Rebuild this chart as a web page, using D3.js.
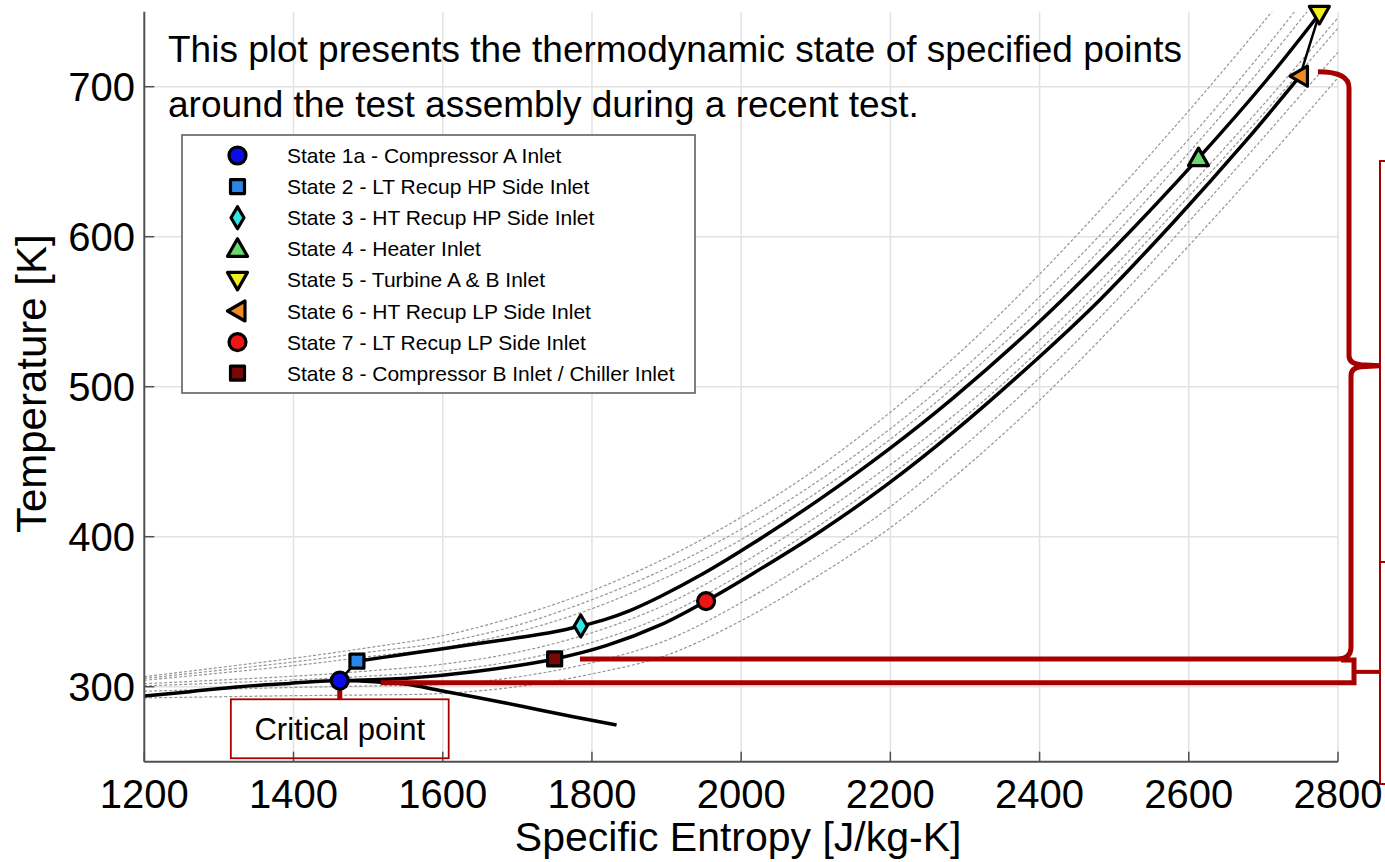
<!DOCTYPE html>
<html>
<head>
<script src="https://d3js.org/d3.v7.min.js"></script>
<style>
  body { margin: 0; background: #fff; }
  svg { display: block; font-family: "Liberation Sans", Arial, sans-serif; }
  .grid line { stroke: #e2e2e2; stroke-width: 1.5px; }
  .iso { fill: none; stroke: #969696; stroke-width: 1.2px; stroke-dasharray: 3,2; }
  .proc { fill: none; stroke: #000; stroke-width: 3.5px; stroke-linejoin: round; }
  .note { fill: none; stroke: #a80000; }
</style>
</head>
<body>
<div id="container"></div>
<script>
// axis ticks
const xTicks = [1200, 1400, 1600, 1800, 2000, 2200, 2400, 2600, 2800];
const yTicks = [300, 400, 500, 600, 700];

// saturation dome: liquid side up to the critical point, then vapour side
const domeS = [1200, 1261, 1328, 1395, 1462, 1516, 1552, 1596, 1641, 1686, 1730, 1775, 1833];
const domeT = [293.8, 296.7, 300, 302.2, 304.1, 303, 301.6, 297.5, 293.3, 289, 284.5, 280, 274.5];

// high pressure side, state 2 -> state 5
const hpS = [1485, 1540, 1596, 1650, 1700, 1750, 1785, 1815, 1850, 1891, 1950, 2016, 2106, 2195, 2284, 2399, 2500, 2613, 2705, 2775];
const hpT = [317, 321, 325, 328.9, 332.6, 336.6, 340.5, 344.4, 350.6, 360, 375.6, 395.6, 425.2, 457.2, 492.4, 543, 592.5, 652.4, 704.8, 748.5];

// low pressure side, state 1a <- state 6
const lpS = [1462, 1480, 1552, 1641, 1750, 1820, 1891, 1953, 2016, 2106, 2195, 2284, 2400, 2481, 2580, 2675, 2749];
const lpT = [304.1, 304.2, 305.6, 310, 318.5, 327.5, 341, 357.1, 375.5, 403.5, 434.5, 469.5, 520, 558, 610, 663, 707];

// background isobars (grey dashed), temperatures at isoS
const isoS = [1200, 1400, 1500, 1600, 1700, 1800, 1900, 2000, 2100, 2200, 2300, 2400, 2500, 2600, 2700, 2800];
const isoA1 = [306.7, 319, 326, 334, 347, 364, 386, 413, 445, 483, 526, 575, 628, 684, 743, 806];
const isoA2 = [305.5, 316.5, 323, 329.5, 341, 358, 379, 405, 436, 472, 513, 560, 611, 665, 724, 787];
const isoA3 = [304.3, 314, 320, 326, 336.5, 352, 373, 398, 429, 465, 506, 551, 601, 656, 714, 776];
const isoB1 = [302, 307, 310.5, 315, 323, 336, 355, 382, 413, 448, 487, 531, 580, 633, 688, 746];
const isoB2 = [300.5, 304.5, 307, 310.5, 317.5, 329.5, 348, 375, 406, 441, 480, 524.5, 574, 627, 682, 739];
const isoC1 = [297, 299.5, 300.5, 301.5, 306.5, 316, 331, 356, 386, 420, 461, 506, 556, 610, 666, 723];
const isoC2 = [292.5, 294, 294.5, 295.5, 300, 308.5, 321, 344, 373, 406, 446, 491, 541, 594, 649, 706];

// measured states
const stateNames = [
  "State 1a - Compressor A Inlet",
  "State 2 - LT Recup HP Side Inlet",
  "State 3 - HT Recup HP Side Inlet",
  "State 4 - Heater Inlet",
  "State 5 - Turbine A & B Inlet",
  "State 6 - HT Recup LP Side Inlet",
  "State 7 - LT Recup LP Side Inlet",
  "State 8 - Compressor B Inlet / Chiller Inlet"
];
const stateS = [1462, 1485, 1785, 2613, 2775, 2749, 1953, 1750];
const stateT = [304.1, 317, 340.5, 652.4, 748.5, 707, 357.1, 318.5];
const stateFill = ["#0c0ce8", "#2a86e6", "#30e6e6", "#6cd86c", "#f2ee1e", "#f08a24", "#f01414", "#780808"];
const stateShape = ["circle", "square", "diamond", "up", "down", "left", "circle", "square"];

// annotation levels (temperature) and ends (entropy)
const braceT = [710, 514, 318.5];   // top, tip, bottom of the big brace
const lowLineT = 302.6;             // line running from the critical point
const lineStartS = [1784, 1517];    // where the two red lines begin
const critBoxS = [1316, 1608];
const critBoxT = [291.6, 252.3];

const W = 1385, H = 862;
const plot = {left: 144.3, right: 1338, top: 11.7, bottom: 761.7};

const x = d3.scaleLinear().domain([1200, 2800]).range([plot.left, plot.right]);
const y = d3.scaleLinear().domain([250, 750]).range([plot.bottom, plot.top]);

const svg = d3.select("#container").append("svg")
  .attr("width", W).attr("height", H);

svg.append("defs").append("clipPath").attr("id", "plotclip")
  .append("rect")
  .attr("x", plot.left).attr("y", plot.top)
  .attr("width", plot.right - plot.left).attr("height", plot.bottom - plot.top);

// grid
const grid = svg.append("g").attr("class", "grid");
grid.selectAll(".gx").data(xTicks.slice(1)).join("line")
  .attr("x1", d => x(d)).attr("x2", d => x(d))
  .attr("y1", plot.top).attr("y2", plot.bottom);
grid.selectAll(".gy").data(yTicks).join("line")
  .attr("x1", plot.left).attr("x2", plot.right)
  .attr("y1", d => y(d)).attr("y2", d => y(d));

// heading text
const head = svg.append("text").attr("font-size", 37).attr("fill", "#000");
head.append("tspan").attr("x", 168).attr("y", 62)
  .text("This plot presents the thermodynamic state of specified points");
head.append("tspan").attr("x", 168).attr("y", 117)
  .text("around the test assembly during a recent test.");

const line = d3.line()
  .x(d => x(d[0])).y(d => y(d[1]))
  .curve(d3.curveCatmullRom.alpha(0.5));
const zip = (s, t) => s.map((v, i) => [v, t[i]]);

// isobars
const isos = [isoA1, isoA2, isoA3, isoB1, isoB2, isoC1, isoC2];
svg.append("g").attr("clip-path", "url(#plotclip)")
  .selectAll("path").data(isos).join("path")
  .attr("class", "iso")
  .attr("d", t => line(zip(isoS, t)));

// process lines and dome
const proc = svg.append("g");
proc.append("path").attr("class", "proc").attr("d", line(zip(domeS, domeT)));
proc.append("path").attr("class", "proc").attr("d", line(zip(hpS, hpT)));
proc.append("path").attr("class", "proc").attr("d", line(zip(lpS, lpT)));
const straight = d3.line().x(d => x(d[0])).y(d => y(d[1]));
proc.append("path").attr("class", "proc").style("stroke-width", "2.5px")
  .attr("d", straight([[stateS[0], stateT[0]], [stateS[1], stateT[1]]]));
proc.append("path").attr("class", "proc").style("stroke-width", "2.5px")
  .attr("d", straight([[stateS[4], stateT[4]], [stateS[5], stateT[5]]]));

// axes
const axc = "#505050";
svg.append("line").attr("x1", plot.left).attr("x2", plot.left)
  .attr("y1", plot.top).attr("y2", plot.bottom)
  .attr("stroke", axc).attr("stroke-width", 2);
svg.append("line").attr("x1", plot.left).attr("x2", plot.right)
  .attr("y1", plot.bottom).attr("y2", plot.bottom)
  .attr("stroke", axc).attr("stroke-width", 2);
svg.selectAll(".xt").data(xTicks).join("line")
  .attr("x1", d => x(d)).attr("x2", d => x(d))
  .attr("y1", plot.bottom).attr("y2", plot.bottom - 10)
  .attr("stroke", axc).attr("stroke-width", 1.5);
svg.selectAll(".yt").data(yTicks).join("line")
  .attr("x1", plot.left).attr("x2", plot.left + 10)
  .attr("y1", d => y(d)).attr("y2", d => y(d))
  .attr("stroke", axc).attr("stroke-width", 1.5);
svg.selectAll(".xl").data(xTicks).join("text")
  .attr("x", d => x(d)).attr("y", 808)
  .attr("text-anchor", "middle").attr("font-size", 40)
  .text(d => d);
svg.selectAll(".yl").data(yTicks).join("text")
  .attr("x", 135).attr("y", d => y(d) + 14.5)
  .attr("text-anchor", "end").attr("font-size", 40)
  .text(d => d);
svg.append("text")
  .attr("x", (plot.left + plot.right) / 2 - 3).attr("y", 851)
  .attr("text-anchor", "middle").attr("font-size", 41)
  .text("Specific Entropy [J/kg-K]");
svg.append("text")
  .attr("transform", "translate(46," + ((plot.top + plot.bottom) / 2 - 3) + ") rotate(-90)")
  .attr("text-anchor", "middle").attr("font-size", 42)
  .text("Temperature [K]");

// red annotations
const red = "#a80000";
const bx = plot.right + 11, tipX = 1380;
const yTop = y(braceT[0]), yTip = y(braceT[1]), yBot = y(braceT[2]);
const yLow = y(lowLineT);
svg.append("path").attr("class", "note").attr("stroke-width", 5)
  .attr("d", "M" + (x(stateS[5]) + 18) + "," + yTop +
    " Q" + bx + "," + yTop + " " + bx + "," + (yTop + 16) +
    " V" + (yTip - 10) +
    " Q" + bx + "," + (yTip - 2) + " " + (bx + 12) + "," + (yTip - 1) +
    " L" + tipX + "," + yTip +
    " L" + (bx + 12) + "," + (yTip + 1) +
    " Q" + (bx + 2) + "," + (yTip + 2) + " " + (bx + 2) + "," + (yTip + 10) +
    " V" + (yBot - 12) +
    " Q" + (bx + 2) + "," + yBot + " " + (bx - 12) + "," + yBot +
    " H" + x(lineStartS[0]));
svg.append("path").attr("class", "note").attr("stroke-width", 5)
  .attr("d", "M" + (bx - 8) + "," + (yBot + 1) + " H" + (bx + 5) +
    " V" + yLow + " H" + x(lineStartS[1]));
svg.append("path").attr("class", "note").attr("stroke-width", 4)
  .attr("d", "M" + (bx + 5) + "," + ((yBot + yLow) / 2 + 1) + " H" + tipX);
svg.append("rect").attr("class", "note").attr("stroke-width", 2)
  .attr("x", tipX).attr("y", 161).attr("width", 60).attr("height", 401);
svg.append("rect").attr("class", "note").attr("stroke-width", 2)
  .attr("x", tipX).attr("y", 562).attr("width", 60).attr("height", 222);

// critical point label
svg.append("line").attr("stroke", red).attr("stroke-width", 5)
  .attr("x1", x(stateS[0])).attr("x2", x(stateS[0]))
  .attr("y1", y(stateT[0])).attr("y2", y(critBoxT[0]));
svg.append("rect").attr("class", "note").attr("stroke-width", 1.8)
  .attr("x", x(critBoxS[0])).attr("y", y(critBoxT[0]))
  .attr("width", x(critBoxS[1]) - x(critBoxS[0]))
  .attr("height", y(critBoxT[1]) - y(critBoxT[0]));
svg.append("text")
  .attr("x", (x(critBoxS[0]) + x(critBoxS[1])) / 2).attr("y", 740)
  .attr("text-anchor", "middle").attr("font-size", 31)
  .text("Critical point");

// markers
const shapes = {
  circle: "M8.5,0A8.5,8.5 0 1,1 -8.5,0A8.5,8.5 0 1,1 8.5,0Z",
  square: "M-7,-7H7V7H-7Z",
  diamond: "M0,-11L6.5,0L0,11L-6.5,0Z",
  up: "M0,-10L10,7.5H-10Z",
  down: "M0,10L10,-7.5H-10Z",
  left: "M-10,0L7.5,-10V10Z"
};
function marker(g, i) {
  g.append("path").attr("d", shapes[stateShape[i]])
    .attr("fill", stateFill[i]).attr("stroke", "#000")
    .attr("stroke-width", 3.2).attr("stroke-linejoin", "round");
}
stateS.forEach((s, i) => {
  const g = svg.append("g").attr("transform", "translate(" + x(s) + "," + y(stateT[i]) + ")");
  marker(g, i);
});

// legend
const leg = svg.append("g");
leg.append("rect").attr("x", 182).attr("y", 135).attr("width", 513).attr("height", 258)
  .attr("fill", "#fff").attr("stroke", "#606060").attr("stroke-width", 1.6);
stateNames.forEach((name, i) => {
  const ry = 155.5 + i * 31.1;
  const g = leg.append("g").attr("transform", "translate(237.5," + ry + ")");
  marker(g, i);
  leg.append("text").attr("x", 287).attr("y", ry + 7.5)
    .attr("font-size", 21).text(name);
});
</script>
</body>
</html>
